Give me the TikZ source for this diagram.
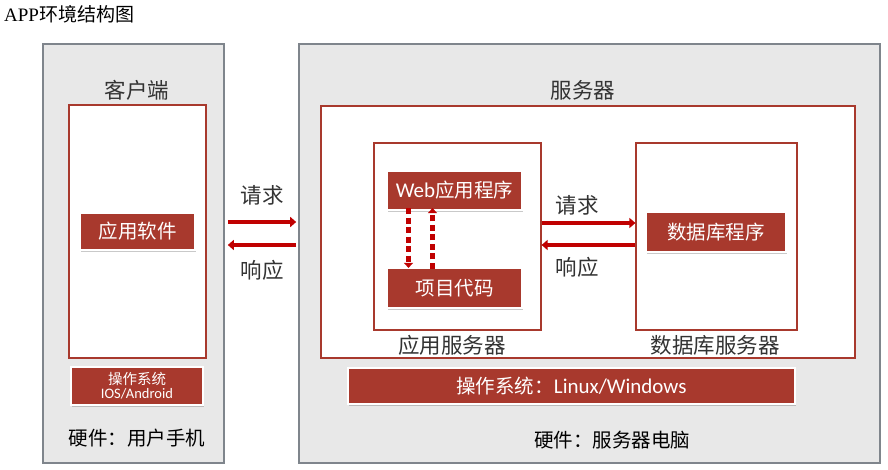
\documentclass[tikz,border=0pt]{standalone}
\usepackage{fontspec}
\setmainfont{Noto Sans CJK SC}
\newfontfamily\cjk{Noto Sans CJK SC}
\newfontfamily\lat{Carlito}
\newfontfamily\titlelat{Liberation Serif}
\usetikzlibrary{arrows.meta,shadows}
\definecolor{panelgray}{HTML}{E8E8E8}
\definecolor{panelline}{HTML}{7F858C}
\definecolor{boxred}{HTML}{A8392D}
\definecolor{lineRed}{HTML}{A8392D}
\definecolor{arrowred}{HTML}{C00000}
\definecolor{labelgray}{HTML}{333333}
\tikzset{
  x=1pt, y=-1pt,
  panel/.style={draw=panelline, line width=1.6pt, fill=panelgray, inner sep=0pt},
  frame/.style={draw=lineRed, line width=1.2pt, fill=white, inner sep=0pt},
  redbox/.style={fill=boxred, draw=white, line width=2.2pt, text=white, inner sep=0pt,
    drop shadow={shadow xshift=0.8pt, shadow yshift=-1.6pt, opacity=0.35, fill=black!60}},
  lbl/.style={text=labelgray, inner sep=0pt},
  big/.style={font=\fontsize{21.5}{21.5}\selectfont},
  mid/.style={font=\fontsize{19.5}{19.5}\selectfont},
  flow/.style={draw=arrowred, line width=3.8pt, -{Triangle[length=6pt,width=10pt]}},
  hop/.style={draw=arrowred, line width=4.5pt, dash pattern=on 6pt off 3.5pt, -{Triangle[length=5pt,width=9pt]}},
}
\begin{document}
\begin{tikzpicture}
\useasboundingbox (0,0) rectangle (888,470);
\fill[white] (0,0) rectangle (888,470);

% title
\node[anchor=west, inner sep=0pt, font=\fontsize{19}{19}\selectfont] (title) at (4,14) {{\titlelat APP}{\cjk 环境结构图}};

% client side
\node[panel, minimum width=181pt, minimum height=419pt] (clientpanel) at (133.5,253.5) {};
\node[lbl, big] (clientlbl) at (137,90) {客户端};
\node[frame, minimum width=137pt, minimum height=253pt] (clientframe) at (137.5,231.5) {};
\node[redbox, mid, minimum width=115pt, minimum height=37pt] (appsw) at (137.5,231.5) {应用软件};
\node[redbox, minimum width=132pt, minimum height=38pt, align=center, font=\fontsize{14.5}{17}\selectfont] (clientos) at (137,386) {操作系统\\[-3pt]{\lat IOS/Android}};
\node[lbl, mid, text=black] (clienthw) at (137,438) {硬件：用户手机};

% server side
\node[panel, minimum width=581pt, minimum height=419pt] (serverpanel) at (589.5,253.5) {};
\node[lbl, big] (serverlbl) at (583,90) {服务器};
\node[frame, minimum width=534pt, minimum height=252pt] (serverframe) at (588,232) {};

% application server
\node[frame, minimum width=167pt, minimum height=187pt] (appserver) at (457.5,236.5) {};
\node[lbl, big] (appserverlbl) at (452,345) {应用服务器};
\node[redbox, mid, minimum width=135pt, minimum height=39pt] (webapp) at (454.5,190.5) {{\lat\fontsize{21}{21}\selectfont Web}应用程序};
\node[redbox, mid, minimum width=135pt, minimum height=40pt] (code) at (454.5,288) {项目代码};

% database server
\node[frame, minimum width=161pt, minimum height=187pt] (dbserver) at (716.5,236.5) {};
\node[lbl, big] (dbserverlbl) at (715,345) {数据库服务器};
\node[redbox, mid, minimum width=140pt, minimum height=40pt] (dbprog) at (716,232) {数据库程序};

% server OS and hardware
\node[redbox, mid, minimum width=447pt, minimum height=36pt] (serveros) at (571.5,386) {操作系统：{\lat\fontsize{21}{21}\selectfont Linux/Windows}};
\node[lbl, mid, text=black] (serverhw) at (612,440) {硬件：服务器电脑};

% client <-> server traffic
\coordinate (c1) at (clientpanel.east |- 0,222);
\coordinate (s1) at (serverpanel.west |- 0,222);
\coordinate (c2) at (clientpanel.east |- 0,245);
\coordinate (s2) at (serverpanel.west |- 0,245);
\draw[flow] ([xshift=3pt]c1) -- ([xshift=-2pt]s1);
\draw[flow] ([xshift=-2pt]s2) -- ([xshift=3pt]c2);
\node[lbl, big] (req1) at (262,195) {请求};
\node[lbl, big] (resp1) at (262,270) {响应};

% application server <-> database server traffic
\coordinate (a1) at (appserver.east |- 0,223);
\coordinate (d1) at (dbserver.west |- 0,223);
\coordinate (a2) at (appserver.east |- 0,245);
\coordinate (d2) at (dbserver.west |- 0,245);
\draw[flow] (a1) -- (d1);
\draw[flow] (d2) -- (a2);
\node[lbl, big] (req2) at (577,205) {请求};
\node[lbl, big] (resp2) at (577,267) {响应};

% web application <-> project code
\draw[hop] ([xshift=-46pt,yshift=3pt]webapp.south) -- ([xshift=-46pt,yshift=-1pt]code.north);
\draw[hop] ([xshift=-22pt,yshift=-2pt]code.north) -- ([xshift=-22pt,yshift=3pt]webapp.south);
\end{tikzpicture}
\end{document}
